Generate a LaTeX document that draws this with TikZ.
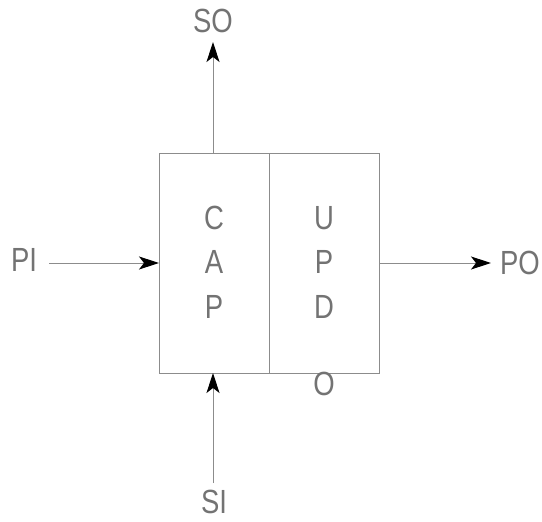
\documentclass[tikz,border=0pt]{standalone}
\usepackage{fontspec}
\setmainfont{Liberation Sans}[FakeStretch=0.82]
\usetikzlibrary{arrows.meta}
\definecolor{linegray}{gray}{0.55}
\definecolor{textgray}{gray}{0.45}
\tikzset{
  blk/.style={draw=linegray, line width=1pt, minimum width=110pt, minimum height=220pt, inner sep=0pt},
  lbl/.style={text=textgray, font=\fontsize{33.5}{33.5}\selectfont, inner sep=0pt, anchor=center},
  sig/.style={draw=linegray, line width=1pt, -{Stealth[length=20pt,width=13pt,inset=5pt,color=black]}}
}
\begin{document}
\begin{tikzpicture}[x=1pt,y=-1pt]
\useasboundingbox (0,0) rectangle (542,522);
\node[blk] (cap) at (214.5,263) {};
\node[blk] (upd) at (324.5,263) {};
% letters
\node[lbl] (c1) at (214,218) {C};
\node[lbl] (c2) at (214,262) {A};
\node[lbl] (c3) at (214,307) {P};
\node[lbl] (u1) at (324,218) {U};
\node[lbl] (u2) at (324,262) {P};
\node[lbl] (u3) at (324,307) {D};
\node[lbl] (u4) at (324,384) {O};
% signal labels
\node[lbl] (so) at (213,21) {SO};
\node[lbl] (si) at (214,502) {SI};
\node[lbl] (pi) at (24,260) {PI};
\node[lbl] (po) at (520,263) {PO};
% connector ends
\coordinate (sotip) at (213,42);
\coordinate (sotail) at (213,153);
\coordinate (sitail) at (213,483);
\coordinate (sitip) at (213,373);
\coordinate (pitail) at (49,263);
\coordinate (potip) at (491,263);
\draw[sig] (sotail) -- (sotip);
\draw[sig] (sitail) -- (sitip);
\draw[sig] (pitail) -- (cap.west |- pitail);
\draw[sig] (upd.east |- potip) -- (potip);
\end{tikzpicture}
\end{document}
